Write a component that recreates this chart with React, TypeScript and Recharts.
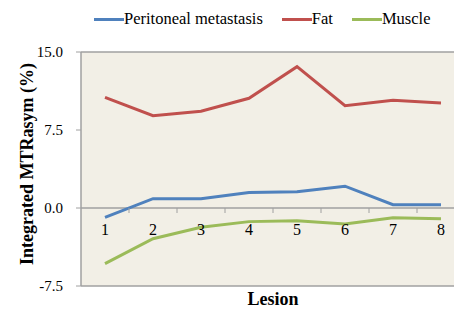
import React from 'react';
import { LineChart, Line, XAxis, YAxis, CartesianGrid, ReferenceLine, Legend, Label } from 'recharts';

const lesions = ['1', '2', '3', '4', '5', '6', '7', '8'];
const peritoneal = [-0.9, 0.9, 0.9, 1.5, 1.57, 2.1, 0.32, 0.32];
const fat = [10.64, 8.88, 9.3, 10.55, 13.59, 9.84, 10.35, 10.1];
const muscle = [-5.35, -2.95, -1.86, -1.31, -1.22, -1.54, -0.93, -1.03];
const yTicks = [-7.5, 0, 7.5, 15];

const data = lesions.map((l, i) => ({
  lesion: l,
  peritoneal: peritoneal[i],
  fat: fat[i],
  muscle: muscle[i],
}));

const FONT = '"Liberation Serif", "Times New Roman", serif';
const W = 470;
const H = 309;
const M = { top: 52, right: 5, bottom: 0, left: 0 };
const Y_W = 81;
const X_H = 23;
const Y_MIN = -7.5;
const Y_MAX = 15;
const PLOT_H = H - M.top - M.bottom - X_H;
const PLOT_W = W - M.left - M.right - Y_W;
const BAND = PLOT_W / lesions.length;
const ZERO_Y = M.top + (PLOT_H * (Y_MAX - 0)) / (Y_MAX - Y_MIN);

const COLORS = { peritoneal: '#4F81BD', fat: '#C0504D', muscle: '#9BBB59' };
const AXIS_GRAY = '#A0A0A0';

const XTick = (props: any) => {
  const { x, index, payload } = props;
  return (
    <g>
      {index < lesions.length - 1 && (
        <line x1={x + BAND / 2} x2={x + BAND / 2} y1={ZERO_Y} y2={ZERO_Y + 5} stroke={AXIS_GRAY} strokeWidth={1} />
      )}
      <text x={x} y={ZERO_Y + 21} dy="0.35em" textAnchor="middle" fontFamily={FONT} fontSize={16} fill="#000">
        {payload.value}
      </text>
    </g>
  );
};

const YTick = (props: any) => {
  const { x, y, payload } = props;
  return (
    <text x={x} y={y} dy="0.35em" textAnchor="end" fontFamily={FONT} fontSize={15} fill="#000">
      {Number(payload.value).toFixed(1)}
    </text>
  );
};

const LegendContent = () => {
  const items = [
    { label: 'Peritoneal metastasis', color: COLORS.peritoneal },
    { label: 'Fat', color: COLORS.fat },
    { label: 'Muscle', color: COLORS.muscle },
  ];
  return (
    <div style={{ height: 0, overflow: 'visible' }}>
      <div style={{ display: 'flex', alignItems: 'center', fontFamily: FONT, fontSize: 16.5, color: '#000', whiteSpace: 'nowrap' }}>
        {items.map((it) => (
          <div key={it.label} style={{ display: 'flex', alignItems: 'center', marginRight: 19 }}>
            <div style={{ width: 30, height: 3, background: it.color }} />
            <span>{it.label}</span>
          </div>
        ))}
      </div>
    </div>
  );
};

export default function App() {
  return (
    <div style={{ position: 'absolute', left: 0, top: 0, width: 454, height: 309, overflow: 'hidden', background: '#fff', fontFamily: FONT }}>
      <LineChart width={W} height={H} data={data} margin={M}>
        <CartesianGrid
          fill="#F2EFE6"
          vertical={false}
          horizontalValues={[Y_MAX, Y_MIN]}
          stroke={AXIS_GRAY}
          strokeWidth={1.5}
        />
        <XAxis
          dataKey="lesion"
          axisLine={false}
          tickLine={false}
          height={X_H}
          padding={{ left: BAND / 2, right: BAND / 2 }}
          tick={<XTick />}
          interval={0}
        >
          <Label value="Lesion" position="center" dy={1} style={{ fontFamily: FONT, fontSize: 18, fontWeight: 'bold', fill: '#000' }} />
        </XAxis>
        <YAxis
          width={Y_W}
          domain={[Y_MIN, Y_MAX]}
          ticks={yTicks}
          interval={0}
          tick={<YTick />}
          axisLine={{ stroke: AXIS_GRAY, strokeWidth: 1.5 }}
          tickLine={{ stroke: AXIS_GRAY }}
          tickSize={5}
          tickMargin={13}
        >
          <Label
            value="Integrated MTRasym (%)"
            angle={-90}
            position="center"
            dx={-14}
            dy={-5}
            style={{ fontFamily: FONT, fontSize: 18, fontWeight: 'bold', fill: '#000', textAnchor: 'middle' }}
          />
        </YAxis>
        <ReferenceLine y={0} stroke={AXIS_GRAY} strokeWidth={1.5} />
        <Legend
          verticalAlign="top"
          content={<LegendContent />}
          wrapperStyle={{ position: 'absolute', top: 9, left: 94, width: 'auto' }}
        />
        <Line type="linear" dataKey="peritoneal" stroke={COLORS.peritoneal} strokeWidth={3} dot={false} isAnimationActive={false} />
        <Line type="linear" dataKey="fat" stroke={COLORS.fat} strokeWidth={3} dot={false} isAnimationActive={false} />
        <Line type="linear" dataKey="muscle" stroke={COLORS.muscle} strokeWidth={3} dot={false} isAnimationActive={false} />
      </LineChart>
    </div>
  );
}
